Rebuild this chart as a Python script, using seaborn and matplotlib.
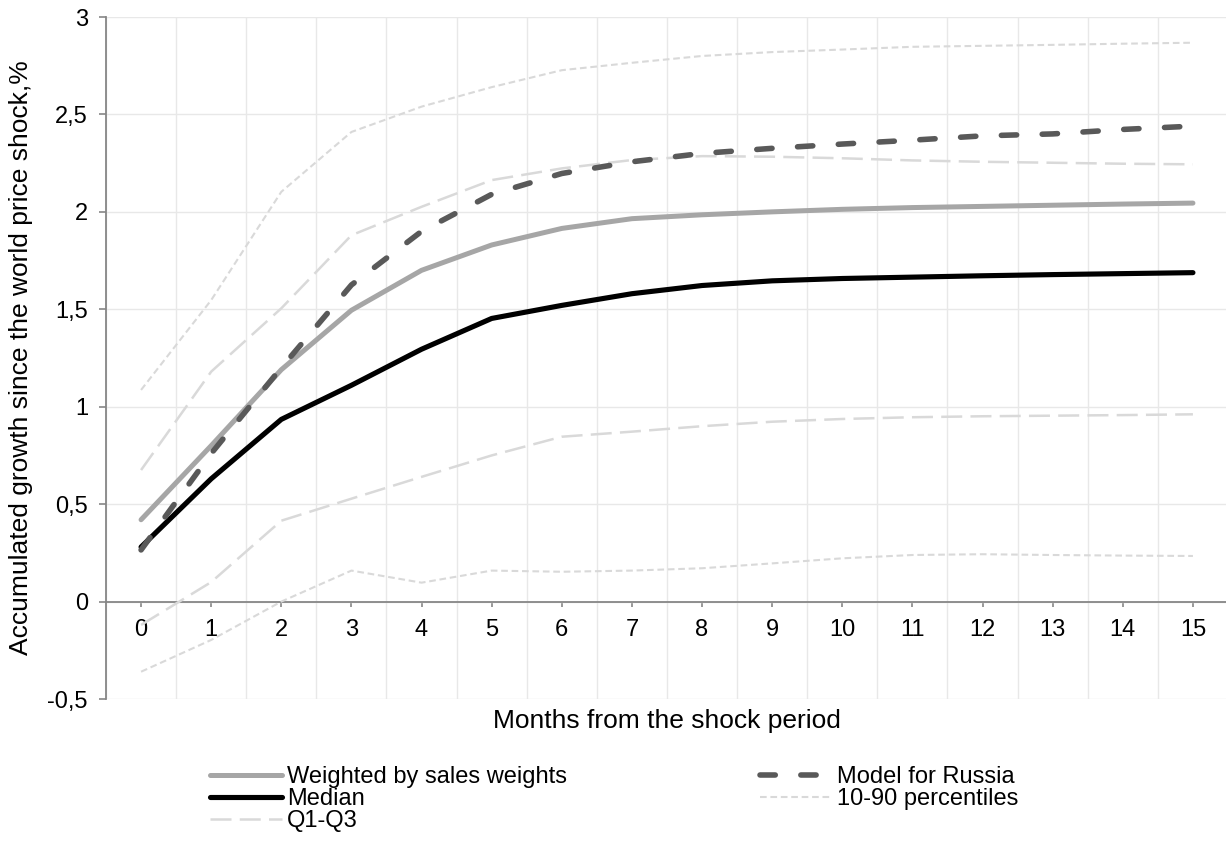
import matplotlib
matplotlib.use("Agg")
import matplotlib.pyplot as plt
import seaborn as sns
import numpy as np
import pandas as pd

months = list(range(16))
weighted = [0.42, 0.80, 1.19, 1.495, 1.70, 1.83, 1.915, 1.965, 1.985, 2.00, 2.013, 2.022, 2.028, 2.034, 2.04, 2.045]
median = [0.28, 0.63, 0.935, 1.11, 1.295, 1.453, 1.52, 1.58, 1.622, 1.646, 1.658, 1.665, 1.672, 1.678, 1.683, 1.688]
model_russia = [0.265, 0.76, 1.20, 1.625, 1.90, 2.09, 2.197, 2.257, 2.30, 2.326, 2.348, 2.368, 2.39, 2.40, 2.423, 2.44]
q_upper = [0.675, 1.18, 1.505, 1.88, 2.026, 2.163, 2.223, 2.266, 2.286, 2.283, 2.275, 2.264, 2.257, 2.252, 2.247, 2.244]
q_lower = [-0.12, 0.10, 0.415, 0.528, 0.64, 0.75, 0.846, 0.872, 0.90, 0.923, 0.937, 0.946, 0.951, 0.954, 0.957, 0.961]
p90 = [1.086, 1.547, 2.103, 2.41, 2.54, 2.64, 2.727, 2.765, 2.80, 2.82, 2.833, 2.847, 2.852, 2.857, 2.863, 2.868]
p10 = [-0.36, -0.197, 0.0, 0.159, 0.097, 0.159, 0.153, 0.159, 0.171, 0.196, 0.222, 0.239, 0.243, 0.239, 0.236, 0.234]
y_ticks = [-0.5, 0, 0.5, 1, 1.5, 2, 2.5, 3]
y_ticklabels = ["-0,5", "0", "0,5", "1", "1,5", "2", "2,5", "3"]

sns.set_theme(style="white")
plt.rcParams['font.family'] = ['Liberation Sans', 'DejaVu Sans']

W, H = 1226, 846
fig = plt.figure(figsize=(W / 100, H / 100), dpi=100)
left, right, top, bottom = 106, 1228, 17, 699
ax = fig.add_axes([left / W, 1 - bottom / H, (right - left) / W, (bottom - top) / H])

fs_tick = 17
fs_label = 19
fs_leg = 17
light = "#D9D9D9"

sns.lineplot(x=months, y=p90, ax=ax, color=light, lw=1.5, linestyle=(0, (3.2, 1.8)), label="10-90 percentiles", zorder=3)
sns.lineplot(x=months, y=p10, ax=ax, color=light, lw=1.5, linestyle=(0, (3.2, 1.8)), zorder=3)
sns.lineplot(x=months, y=q_upper, ax=ax, color=light, lw=1.8, linestyle=(0, (8.4, 3.3)), label="Q1-Q3", zorder=3)
sns.lineplot(x=months, y=q_lower, ax=ax, color=light, lw=1.8, linestyle=(0, (8.4, 3.3)), zorder=3)
sns.lineplot(x=months, y=weighted, ax=ax, color="#A6A6A6", lw=3.6, label="Weighted by sales weights",
             zorder=4, solid_capstyle="round")
sns.lineplot(x=months, y=median, ax=ax, color="#000000", lw=3.7, label="Median", zorder=5,
             solid_capstyle="round")
sns.lineplot(x=months, y=model_russia, ax=ax, color="#595959", lw=4.0, linestyle=(0, (2.75, 4.6)),
             label="Model for Russia", zorder=6, dash_capstyle="round")

ax.set_xlim(-0.5, 15.5)
ax.set_ylim(-0.5, 3)
ax.set_yticks(y_ticks)
ax.set_yticklabels(y_ticklabels)
ax.set_xticks(months)
ax.set_xticklabels([str(m) for m in months])

# grid
ax.set_xticks(np.arange(-0.5, 15.6, 1), minor=True)
ax.grid(which="minor", axis="x", color="#E8E8E8", lw=1.0)
ax.grid(which="major", axis="y", color="#E8E8E8", lw=1.0)
ax.grid(which="major", axis="x", visible=False)
ax.set_axisbelow(True)

for s in ["top", "right"]:
    ax.spines[s].set_visible(False)
ax.spines["left"].set_color("#868686")
ax.spines["left"].set_linewidth(1.3)
ax.spines["bottom"].set_position(("data", 0))
ax.spines["bottom"].set_color("#868686")
ax.spines["bottom"].set_linewidth(1.3)

ax.tick_params(axis="y", which="major", left=True, length=5, width=1.2, color="#868686",
               labelsize=fs_tick, pad=8, labelcolor="black")
ax.tick_params(axis="x", which="major", bottom=True, length=3.5, width=1.2, color="#868686",
               labelsize=fs_tick, pad=9, labelcolor="black")
ax.tick_params(axis="x", which="minor", bottom=False)
ax.set_xlabel("")
ax.set_ylabel("")

fig.text(21 / W, 1 - 358 / H, "Accumulated growth since the world price shock,%", rotation=90,
         ha="center", va="center", fontsize=fs_label, color="black")
fig.text(667 / W, 1 - 728 / H, "Months from the shock period", ha="center", va="baseline",
         fontsize=fs_label, color="black")

handles, labels = ax.get_legend_handles_labels()
order = ["Weighted by sales weights", "Median", "Q1-Q3", "Model for Russia", "10-90 percentiles"]
hmap = dict(zip(labels, handles))
ax.legend([hmap[l] for l in order], order, ncol=2, loc="upper left",
          bbox_to_anchor=(210 / W, 1 - 766 / H), bbox_transform=fig.transFigure,
          frameon=False, fontsize=fs_leg, handlelength=3.05, handletextpad=0.2,
          columnspacing=8.2, labelspacing=0.0, borderpad=0, borderaxespad=0,
          labelcolor="black")

fig.savefig("out.png", dpi=100)
